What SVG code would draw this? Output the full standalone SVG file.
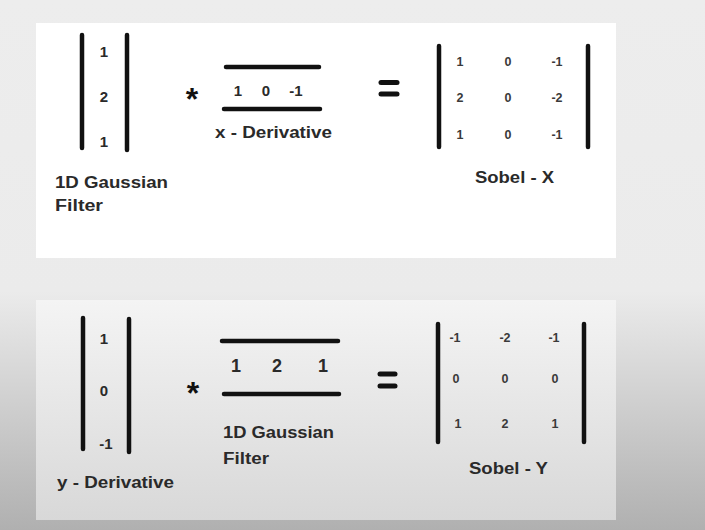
<svg xmlns="http://www.w3.org/2000/svg" width="705" height="530" viewBox="0 0 705 530">
  <defs>
    <linearGradient id="bg" x1="0" y1="0" x2="0" y2="1">
      <stop offset="0" stop-color="#ededed"/>
      <stop offset="0.55" stop-color="#ebebeb"/>
      <stop offset="1" stop-color="#b0b0b0"/>
    </linearGradient>
    <linearGradient id="panel2" x1="0" y1="0" x2="0" y2="1">
      <stop offset="0" stop-color="#f4f4f4"/>
      <stop offset="1" stop-color="#d8d8d8"/>
    </linearGradient>
  </defs>
  <style>
    .bar { stroke: #111; stroke-width: 4.5; stroke-linecap: round; fill: none; }
    .eq { stroke: #111; stroke-width: 5; stroke-linecap: round; }
    .t { font-family: "Liberation Sans", Arial, sans-serif; font-weight: bold; fill: #2a2a2a; }
    .num { font-size: 15px; text-anchor: middle; }
    .big { font-size: 18px; text-anchor: middle; }
    .sm { font-size: 12.5px; text-anchor: middle; fill: #3a3a3a; }
    .lbl { font-size: 16px; }
    .op { font-family: "Liberation Sans", Arial, sans-serif; font-weight: bold; fill: #111; text-anchor: middle; font-size: 32px; }
  </style>
  <rect x="0" y="0" width="705" height="530" fill="url(#bg)"/>
  <rect id="panel-top" x="36" y="23" width="580" height="235" fill="#ffffff"/>
  <rect id="panel-bottom" x="36" y="300" width="580" height="220" fill="url(#panel2)"/>

  <!-- Top row -->
  <g id="gauss-col">
    <line class="bar" x1="82" y1="35" x2="82" y2="148"/>
    <line class="bar" x1="127" y1="35" x2="127" y2="150"/>
    <text class="t num" x="104" y="57">1</text>
    <text class="t num" x="104" y="102">2</text>
    <text class="t num" x="104" y="147">1</text>
    <text class="t lbl" x="55" y="188" textLength="113" lengthAdjust="spacingAndGlyphs">1D Gaussian</text>
    <text class="t lbl" x="55" y="211" textLength="48" lengthAdjust="spacingAndGlyphs">Filter</text>
  </g>
  <g id="star-top">
    <text class="op" x="192" y="110">*</text>
  </g>
  <g id="xderiv-row">
    <line class="bar" x1="226" y1="67" x2="319" y2="67"/>
    <line class="bar" x1="224" y1="109" x2="320" y2="109"/>
    <text class="t num" x="238" y="96">1</text>
    <text class="t num" x="266" y="96">0</text>
    <text class="t num" x="296" y="96">-1</text>
    <text class="t lbl" x="215" y="138" textLength="117" lengthAdjust="spacingAndGlyphs">x - Derivative</text>
  </g>
  <g id="eq-top">
    <line class="eq" x1="381" y1="82.5" x2="397" y2="82.5"/>
    <line class="eq" x1="381" y1="94" x2="397" y2="94"/>
  </g>
  <g id="sobel-x">
    <line class="bar" x1="439" y1="46" x2="439" y2="147"/>
    <line class="bar" x1="588" y1="46" x2="588" y2="147"/>
    <text class="t sm" x="460" y="66">1</text>
    <text class="t sm" x="508" y="66">0</text>
    <text class="t sm" x="557" y="66">-1</text>
    <text class="t sm" x="460" y="102">2</text>
    <text class="t sm" x="508" y="102">0</text>
    <text class="t sm" x="557" y="102">-2</text>
    <text class="t sm" x="460" y="139">1</text>
    <text class="t sm" x="508" y="139">0</text>
    <text class="t sm" x="557" y="139">-1</text>
    <text class="t lbl" x="475" y="183" textLength="79" lengthAdjust="spacingAndGlyphs">Sobel - X</text>
  </g>

  <!-- Bottom row -->
  <g id="yderiv-col">
    <line class="bar" x1="83" y1="318" x2="83" y2="449"/>
    <line class="bar" x1="129" y1="319" x2="129" y2="452"/>
    <text class="t num" x="104" y="344">1</text>
    <text class="t num" x="104" y="396">0</text>
    <text class="t num" x="106" y="449">-1</text>
    <text class="t lbl" x="57" y="488" textLength="117" lengthAdjust="spacingAndGlyphs">y - Derivative</text>
  </g>
  <g id="star-bottom">
    <text class="op" x="193" y="404">*</text>
  </g>
  <g id="gauss-row">
    <line class="bar" x1="222" y1="341" x2="338" y2="341"/>
    <line class="bar" x1="224" y1="394" x2="339" y2="394"/>
    <text class="t big" x="236" y="372">1</text>
    <text class="t big" x="277" y="372">2</text>
    <text class="t big" x="323" y="372">1</text>
    <text class="t lbl" x="223" y="438" textLength="111" lengthAdjust="spacingAndGlyphs">1D Gaussian</text>
    <text class="t lbl" x="223" y="464" textLength="46" lengthAdjust="spacingAndGlyphs">Filter</text>
  </g>
  <g id="eq-bottom">
    <line class="eq" x1="380" y1="374" x2="395" y2="374"/>
    <line class="eq" x1="380" y1="386" x2="395" y2="386"/>
  </g>
  <g id="sobel-y">
    <line class="bar" x1="438" y1="324" x2="438" y2="442"/>
    <line class="bar" x1="584" y1="324" x2="584" y2="442"/>
    <text class="t sm" x="455" y="342">-1</text>
    <text class="t sm" x="505" y="342">-2</text>
    <text class="t sm" x="554" y="342">-1</text>
    <text class="t sm" x="456" y="383">0</text>
    <text class="t sm" x="505" y="383">0</text>
    <text class="t sm" x="555" y="383">0</text>
    <text class="t sm" x="458" y="428">1</text>
    <text class="t sm" x="505" y="428">2</text>
    <text class="t sm" x="555" y="428">1</text>
    <text class="t lbl" x="469" y="474" textLength="79" lengthAdjust="spacingAndGlyphs">Sobel - Y</text>
  </g>
</svg>
